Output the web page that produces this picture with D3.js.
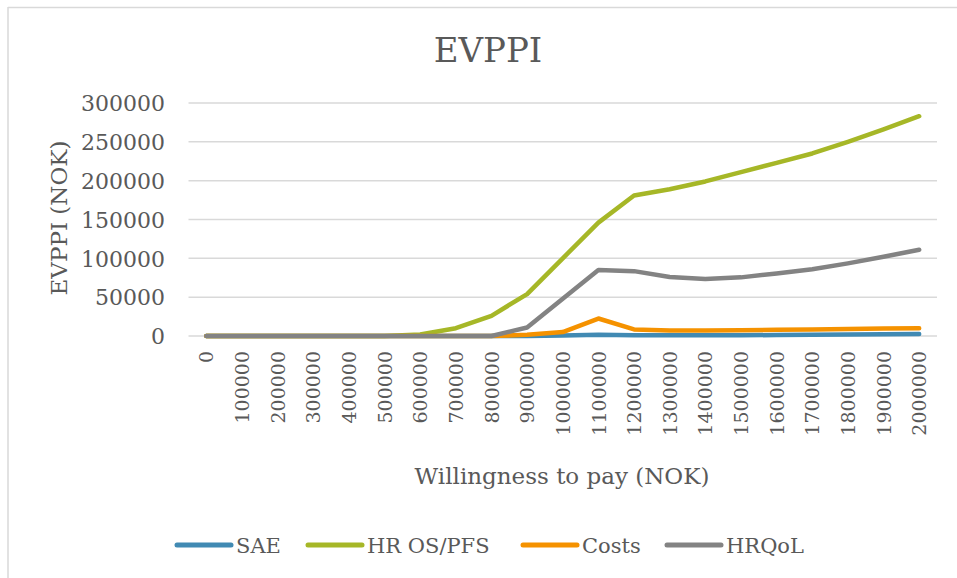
<!DOCTYPE html>
<html>
<head>
<meta charset="utf-8">
<script src="https://cdn.jsdelivr.net/npm/d3@7"></script>
<style>
  html, body { margin: 0; padding: 0; background: #fff; }
  svg { display: block; font-family: "DejaVu Serif", serif; }
</style>
</head>
<body>
<svg id="chart" width="957" height="578"></svg>
<script>
const categories = [0,100000,200000,300000,400000,500000,600000,700000,800000,900000,1000000,
  1100000,1200000,1300000,1400000,1500000,1600000,1700000,1800000,1900000,2000000];
const tickLabels = ["0","100000","200000","300000","400000","500000","600000","700000","800000","900000","1000000",
  "1100000","1200000","1300000","1400000","1500000","1600000","1700000","1800000","1900000","2000000"];
const yTicks = [0,50000,100000,150000,200000,250000,300000];

const sae     = [0,0,0,0,0,0,0,0,0,0,500,1500,1000,1000,1000,1000,1200,1500,1800,2200,2500];
const hrOsPfs = [0,0,0,0,0,0,2000,10000,26000,54000,100000,146000,181000,189000,199000,211000,223000,235000,250000,266000,283000];
const costs   = [0,0,0,0,0,0,0,0,0,1500,5000,22500,8500,7000,7000,7500,8000,8500,9000,9500,10000];
const hrqol   = [0,0,0,0,0,0,0,0,0,11000,48000,85000,83500,76000,73500,75500,80500,86000,93500,102000,111000];

const seriesNames = ["SAE","HR OS/PFS","Costs","HRQoL"];
const seriesValues = [sae, hrOsPfs, costs, hrqol];
const colors = ["#418AB3","#A6B727","#F59200","#838383"];

const svg = d3.select("#chart");
const textColor = "#595959";

// outer border (top + left visible)
svg.append("line").attr("x1",8).attr("x2",957).attr("y1",7.5).attr("y2",7.5)
  .attr("stroke","#d9d9d9").attr("stroke-width",1.5);
svg.append("line").attr("x1",8).attr("x2",8).attr("y1",7).attr("y2",578)
  .attr("stroke","#d9d9d9").attr("stroke-width",1.5);

const x = d3.scalePoint().domain(categories).range([188.5, 937]).padding(0.5);
const y = d3.scaleLinear().domain([0,300000]).range([336,103]);

// gridlines
svg.append("g").selectAll("line").data(yTicks).join("line")
  .attr("x1",188.5).attr("x2",937)
  .attr("y1",d=>y(d)).attr("y2",d=>y(d))
  .attr("stroke","#d9d9d9").attr("stroke-width",1.5);

// y axis labels
const yAxis = d3.axisLeft(y).tickValues(yTicks).tickSize(0).tickPadding(0).tickFormat(d3.format("d"));
const gy = svg.append("g").attr("transform","translate(165,0)").call(yAxis);
gy.select(".domain").remove();
gy.selectAll("text").attr("font-family","DejaVu Serif").attr("font-size",22)
  .attr("fill",textColor).attr("dy","0.35em").attr("x",0);

// x axis labels
const xAxis = d3.axisBottom(x).tickSize(0).tickFormat((d,i)=>tickLabels[i]);
const gx = svg.append("g").attr("transform","translate(0,336)").call(xAxis);
gx.select(".domain").remove();
gx.selectAll("text").attr("font-family","DejaVu Serif").attr("font-size",19)
  .attr("fill",textColor)
  .attr("transform","rotate(-90)")
  .attr("text-anchor","end")
  .attr("x",-15).attr("y",0).attr("dy","0.35em");

// lines
const line = d3.line().x((d,i)=>x(categories[i])).y(d=>y(d));
svg.append("g").selectAll("path").data(seriesValues).join("path")
  .attr("d", d=>line(d))
  .attr("fill","none")
  .attr("stroke",(d,i)=>colors[i])
  .attr("stroke-width",4.5)
  .attr("stroke-linejoin","round")
  .attr("stroke-linecap","round");

// title
svg.append("text").attr("x",488).attr("y",62).attr("text-anchor","middle")
  .attr("font-size",34).attr("fill",textColor).text("EVPPI");

// axis titles
svg.append("text").attr("x",562).attr("y",484).attr("text-anchor","middle")
  .attr("font-size",23).attr("fill",textColor).text("Willingness to pay (NOK)");
svg.append("text").attr("transform","translate(67,218) rotate(-90)").attr("text-anchor","middle")
  .attr("font-size",23).attr("fill",textColor).text("EVPPI (NOK)");

// legend
const legendX = [177, 308, 523, 667];
const lg = svg.append("g").selectAll("g").data(seriesNames).join("g")
  .attr("transform",(d,i)=>`translate(${legendX[i]},545)`);
lg.append("line").attr("x1",0).attr("x2",54).attr("y1",0).attr("y2",0)
  .attr("stroke",(d,i)=>colors[i]).attr("stroke-width",5).attr("stroke-linecap","round");
lg.append("text").attr("x",59).attr("y",0).attr("dy","0.36em")
  .attr("font-size",21).attr("fill",textColor).text(d=>d);
</script>
</body>
</html>
